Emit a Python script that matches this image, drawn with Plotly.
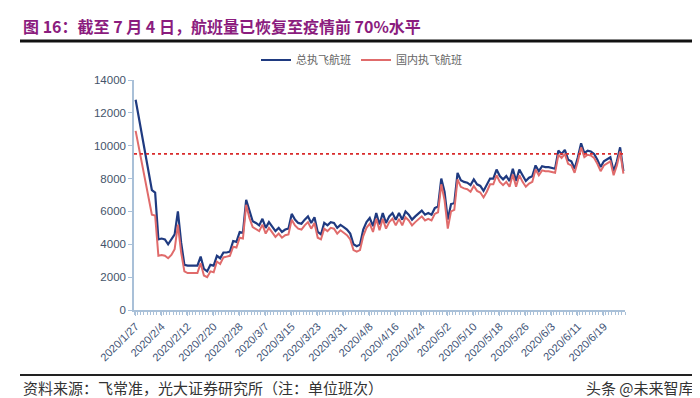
import plotly.graph_objects as go
import pandas as pd

dates = pd.date_range("2020-01-27", periods=151, freq="D")
date_labels = [f"{d.year}/{d.month}/{d.day}" for d in dates]

total_flights = [
    12800, 11700, 10600, 9500, 8400, 7300, 7150, 4300, 4350, 4300,
    4000, 4300, 4600, 6000, 4100, 2750, 2700, 2700, 2680, 2700,
    3250, 2500, 2350, 2750, 2700, 3300, 3150, 3500, 3500, 3550,
    4200, 4150, 4750, 4700, 6700, 6000, 5400, 5300, 5150, 5550,
    5000, 5350, 5050, 4800, 5000, 4750, 4900, 4950, 5850, 5500,
    5300, 5250, 5500, 5700, 5300, 5650, 4750, 4600, 5300, 5150,
    5350, 5300, 5000, 5180, 5050, 4900, 4650, 4000, 3880, 3980,
    4900, 5350, 5600, 5100, 5900, 5200, 5900, 5300, 5700, 5900,
    5500, 5900, 5500, 6000, 5800, 5500, 5700, 5900, 6050, 5800,
    5900, 5800, 6200, 6300, 8000, 7200, 5500, 6450, 6500, 8350,
    7900, 7800, 7750, 7600, 7950, 7650, 7550, 7250, 7600, 8000,
    8000, 8550, 8150, 7950, 8150, 7850, 8600, 7850, 8550, 8150,
    7850, 8050, 8150, 8800, 8450, 8750, 8700, 8700, 8650, 8600,
    9700, 9500, 9750, 9150, 9050, 8600, 9300, 10150, 9550, 9700,
    9650, 9500, 9150, 8700, 9050, 9150, 9300, 8450, 9050, 9900,
    8450,
]

domestic_flights = [
    10900, 9900, 8900, 7900, 6850, 5800, 5750, 3300, 3350, 3300,
    3150, 3350, 3700, 5200, 3500, 2350, 2250, 2250, 2250, 2250,
    2850, 2100, 2000, 2350, 2300, 2950, 2800, 3200, 3250, 3300,
    3850, 3800, 4400, 4350, 6400, 5600, 5050, 4950, 4800, 5200,
    4650, 5000, 4700, 4450, 4650, 4400, 4550, 4600, 5500, 5150,
    4950, 4900, 5150, 5350, 4950, 5300, 4400, 4300, 4950, 4800,
    5000, 4950, 4650, 4850, 4700, 4550, 4300, 3650, 3550, 3650,
    4500, 5000, 5250, 4750, 5550, 4850, 5550, 4950, 5350, 5550,
    5150, 5550, 5150, 5650, 5450, 5150, 5350, 5550, 5700, 5450,
    5550, 5450, 5850, 5950, 7650, 6700, 4950, 6000, 6100, 7950,
    7500, 7400, 7350, 7200, 7550, 7250, 7150, 6850, 7200, 7650,
    7650, 8200, 7800, 7600, 7800, 7500, 8250, 7500, 8200, 7800,
    7500, 7700, 7800, 8550, 8200, 8500, 8450, 8450, 8400, 8350,
    9450, 9250, 9500, 8900, 8800, 8350, 9050, 9900, 9300, 9450,
    9400, 9250, 8900, 8450, 8800, 8900, 9050, 8200, 8800, 9650,
    8300,
]

pre_epidemic_70pct = 9500
y_ticks = [0, 2000, 4000, 6000, 8000, 10000, 12000, 14000]
y_tick_labels = ["0", "2000", "4000", "6000", "8000", "10000", "12000", "14000"]
tick_step = 8

n = len(date_labels)
x_idx = list(range(n))
tickvals = x_idx[::tick_step]
ticktext = date_labels[::tick_step]

# plot area in pixels: x 126..617, y 72..302
L, R, T, B = 126, 617, 72, 302
W, H = R - L, B - T
def px(xp):
    return (xp - L) / W
def py(yp):
    return (B - yp) / H

fig = go.Figure()
fig.add_trace(go.Scatter(
    x=x_idx, y=total_flights, mode="lines", name="总执飞航班",
    line=dict(color="#1F3A80", width=2.2),
))
fig.add_trace(go.Scatter(
    x=x_idx, y=domestic_flights, mode="lines", name="国内执飞航班",
    line=dict(color="#E06B6B", width=2),
))

fig.add_shape(type="line", xref="x", yref="y",
              x0=-0.5, x1=n - 0.5, y0=pre_epidemic_70pct, y1=pre_epidemic_70pct,
              line=dict(color="#D92B2B", width=1.8, dash="dot"))

# header and footer rules
fig.add_shape(type="line", xref="paper", yref="paper",
              x0=px(12), x1=px(688), y0=py(33), y1=py(33),
              line=dict(color="#111111", width=3))
fig.add_shape(type="line", xref="paper", yref="paper",
              x0=px(12), x1=px(688), y0=py(367), y1=py(367),
              line=dict(color="#222222", width=2))

fig.add_annotation(
    text="<b>图 16：截至 7 月 4 日，航班量已恢复至疫情前 70%水平</b>",
    xref="paper", yref="paper", x=px(13), y=py(18),
    xanchor="left", yanchor="middle", showarrow=False,
    font=dict(family="Noto Sans CJK SC", size=16, color="#8B1C7E"),
)
fig.add_annotation(
    text="资料来源：飞常准，光大证券研究所（注：单位班次）",
    xref="paper", yref="paper", x=px(13), y=py(379),
    xanchor="left", yanchor="middle", showarrow=False,
    font=dict(family="Noto Sans CJK SC", size=15, color="#333333"),
)
fig.add_annotation(
    text="头条 @未来智库",
    xref="paper", yref="paper", x=px(688), y=py(379),
    xanchor="right", yanchor="middle", showarrow=False,
    font=dict(family="Noto Sans CJK SC", size=15, color="#333333"),
)

axis_color = "#A9C0D8"
tick_font = dict(family="Liberation Sans, Arial", size=11.5, color="#44546A")

fig.update_layout(
    width=700, height=398,
    margin=dict(l=L, r=700 - R, t=T, b=398 - B, pad=0),
    paper_bgcolor="white", plot_bgcolor="white",
    showlegend=True,
    legend=dict(
        orientation="h", x=px(248), y=py(52), xanchor="left", yanchor="middle",
        font=dict(family="Noto Sans CJK SC", size=11, color="#666666"),
        itemwidth=30, tracegroupgap=0, bgcolor="rgba(0,0,0,0)",
    ),
    xaxis=dict(
        range=[-0.5, n - 0.5], tickmode="array", tickvals=tickvals, ticktext=ticktext,
        tickangle=-45, tickfont=dict(family="Liberation Sans, Arial", size=11, color="#3E5275"),
        showline=True, linecolor=axis_color, linewidth=1.5,
        ticks="outside", ticklen=4, tickcolor=axis_color,
        minor=dict(ticks="outside", dtick=1, tick0=-0.5, ticklen=3, tickcolor=axis_color),
        showgrid=False, zeroline=False,
    ),
    yaxis=dict(
        range=[0, 14000], tickmode="array", tickvals=y_ticks, ticktext=y_tick_labels,
        tickfont=tick_font,
        showline=True, linecolor=axis_color, linewidth=1.5,
        ticks="outside", ticklen=4, tickcolor=axis_color,
        showgrid=False, zeroline=False,
    ),
)

fig.write_html("out.html")
